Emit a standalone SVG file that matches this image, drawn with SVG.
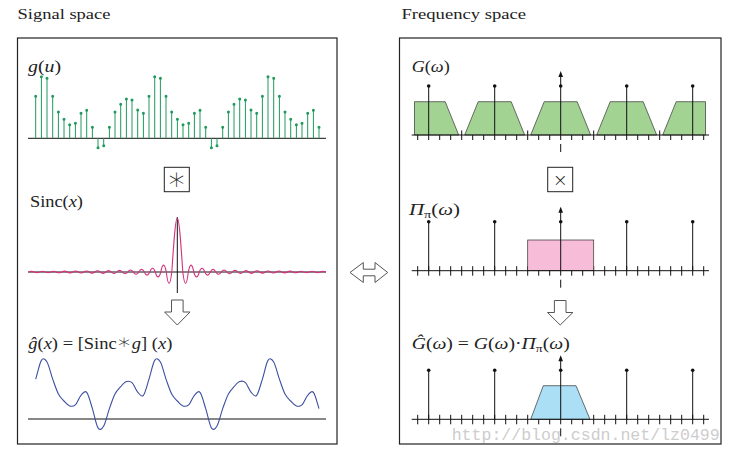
<svg xmlns="http://www.w3.org/2000/svg" xmlns:xlink="http://www.w3.org/1999/xlink" width="732" height="455" viewBox="0 0 732 455">
<style>
.t{font-family:"Liberation Serif","DejaVu Serif",serif;fill:#222}
.i{font-style:italic}
.ast{font-family:"DejaVu Sans",sans-serif;font-weight:200}
.panel{fill:none;stroke:#222;stroke-width:1.2}
.axis{stroke:#111;stroke-width:1;fill:none}
.opbox{fill:#fff;stroke:#222;stroke-width:1}
.hollow{fill:#fff;stroke:#555;stroke-width:1;stroke-linejoin:miter}
.tick{stroke:#111;stroke-width:1}
.trap{stroke:#333;stroke-width:0.7}
.dash{stroke:#111;stroke-width:1}
</style>
<defs>
<path id="ticks" class="tick" d="M417.7 -4.5v9.5M428.7 -4.5v9.5M439.7 -4.5v9.5M450.7 -4.5v9.5M461.7 -4.5v9.5M472.7 -4.5v9.5M483.7 -4.5v9.5M494.7 -4.5v9.5M505.7 -4.5v9.5M516.7 -4.5v9.5M527.7 -4.5v9.5M538.7 -4.5v9.5M549.7 -4.5v9.5M560.7 -4.5v9.5M571.7 -4.5v9.5M582.7 -4.5v9.5M593.7 -4.5v9.5M604.7 -4.5v9.5M615.7 -4.5v9.5M626.7 -4.5v9.5M637.7 -4.5v9.5M648.7 -4.5v9.5M659.7 -4.5v9.5M670.7 -4.5v9.5M681.7 -4.5v9.5M692.7 -4.5v9.5M703.7 -4.5v9.5"/>
<g id="spikes">
<path d="M428.7 0V-49M494.7 0V-49M560.7 0V-60M626.7 0V-49M692.7 0V-49" stroke="#111" stroke-width="1" fill="none"/>
<path d="M560.7 -64L558.4 -58L563 -58Z" fill="#111"/>
<g fill="#111"><circle cx="428.7" cy="-49" r="1.8"/><circle cx="494.7" cy="-49" r="1.8"/><circle cx="560.7" cy="-49" r="1.8"/><circle cx="626.7" cy="-49" r="1.8"/><circle cx="692.7" cy="-49" r="1.8"/></g>
<path d="M560.7 9V17" class="dash"/>
</g>
</defs>
<rect width="732" height="455" fill="#fff"/>

<text class="t" x="17.5" y="18.5" font-size="15" textLength="93" lengthAdjust="spacingAndGlyphs">Signal space</text>
<text class="t" x="401.5" y="18.5" font-size="15" textLength="124.5" lengthAdjust="spacingAndGlyphs">Frequency space</text>

<g id="panel-signal"><rect class="panel" x="17.5" y="38" width="319.5" height="406"/></g>
<g id="panel-frequency"><rect class="panel" x="399.5" y="38" width="321.5" height="406"/></g>

<g id="plot-g">
<text class="t" x="28" y="71.5" font-size="16" textLength="33" lengthAdjust="spacingAndGlyphs"><tspan class="i">g</tspan>(<tspan class="i">u</tspan>)</text>
<line class="axis" x1="28" y1="138.3" x2="326" y2="138.3"/>
<path stroke="#1f9a5c" stroke-width="1" fill="none" d="M35.7 138.3V96.3M41.4 138.3V76.7M47 138.3V78.3M52.7 138.3V96.3M58.4 138.3V112M64 138.3V119.3M69.7 138.3V124.7M75.4 138.3V123.3M81 138.3V113.3M86.7 138.3V110.3M92.4 138.3V127.3M98 138.3V147.7M103.7 138.3V145.7M109.4 138.3V127.3M115 138.3V112M120.7 138.3V104.3M126.4 138.3V99M132 138.3V100M137.7 138.3V110M143.4 138.3V113.3M149 138.3V96.3M154.7 138.3V76.7M160.4 138.3V78.3M166 138.3V96.3M171.7 138.3V112M177.4 138.3V119.3M183 138.3V124.7M188.7 138.3V123.3M194.4 138.3V113.3M200 138.3V110.3M205.7 138.3V127.3M211.4 138.3V147.7M217 138.3V145.7M222.7 138.3V127.3M228.4 138.3V112M234 138.3V104.3M239.7 138.3V99M245.4 138.3V100M251 138.3V110M256.7 138.3V113.3M262.4 138.3V96.3M268 138.3V76.7M273.7 138.3V78.3M279.4 138.3V96.3M285 138.3V112M290.7 138.3V119.3M296.4 138.3V124.7M302 138.3V123.3M307.7 138.3V113.3M313.4 138.3V110.3M319 138.3V127.3"/>
<path stroke="#1f9a5c" stroke-width="3" stroke-linecap="round" fill="none" d="M35.7 96.3h0.01M41.4 76.7h0.01M47 78.3h0.01M52.7 96.3h0.01M58.4 112h0.01M64 119.3h0.01M69.7 124.7h0.01M75.4 123.3h0.01M81 113.3h0.01M86.7 110.3h0.01M92.4 127.3h0.01M98 147.7h0.01M103.7 145.7h0.01M109.4 127.3h0.01M115 112h0.01M120.7 104.3h0.01M126.4 99h0.01M132 100h0.01M137.7 110h0.01M143.4 113.3h0.01M149 96.3h0.01M154.7 76.7h0.01M160.4 78.3h0.01M166 96.3h0.01M171.7 112h0.01M177.4 119.3h0.01M183 124.7h0.01M188.7 123.3h0.01M194.4 113.3h0.01M200 110.3h0.01M205.7 127.3h0.01M211.4 147.7h0.01M217 145.7h0.01M222.7 127.3h0.01M228.4 112h0.01M234 104.3h0.01M239.7 99h0.01M245.4 100h0.01M251 110h0.01M256.7 113.3h0.01M262.4 96.3h0.01M268 76.7h0.01M273.7 78.3h0.01M279.4 96.3h0.01M285 112h0.01M290.7 119.3h0.01M296.4 124.7h0.01M302 123.3h0.01M307.7 113.3h0.01M313.4 110.3h0.01M319 127.3h0.01"/>
</g>

<g id="op-conv">
<rect class="opbox" x="164.3" y="167.3" width="25" height="24.4"/>
<text class="ast" x="176.8" y="190" font-size="32" text-anchor="middle" fill="#222">∗</text>
</g>

<g id="plot-sinc">
<text class="t" x="30" y="207" font-size="16" textLength="53" lengthAdjust="spacingAndGlyphs">Sinc(<tspan class="i">x</tspan>)</text>
<line class="axis" x1="28" y1="272" x2="326" y2="272"/>
<line class="axis" x1="177.3" y1="217" x2="177.3" y2="293"/>
<path fill="none" stroke="#d6307e" stroke-width="1.1" d="M28.8 272Q31.55 270.7 34.3 272Q37.05 273.4 39.8 272Q42.55 270.6 45.3 272Q48.05 273.5 50.8 272Q53.55 270.5 56.3 272Q59.05 273.6 61.8 272Q64.55 270.3 67.3 272Q70.05 273.8 72.8 272Q75.55 270.1 78.3 272Q81.05 274 83.8 272Q86.55 269.9 89.3 272Q92.05 274.2 94.8 272Q97.55 269.6 100.3 272Q103.05 274.6 105.8 272Q108.55 269.3 111.3 272Q114.05 275 116.8 272Q119.55 268.7 122.3 272Q125.05 275.6 127.8 272Q130.55 268 133.3 272Q136.05 276.6 138.8 272Q141.55 266.7 144.3 272Q147.05 278.3 149.8 272Q152.55 264.4 155.3 272Q158.05 281.8 160.8 272Q163.55 258.2 166.3 272Q169.05 294.9 171.8 272C173.6 245 175.4 218 177.3 218S181 245 182.8 272Q185.55 294.9 188.3 272Q191.05 258.2 193.8 272Q196.55 281.8 199.3 272Q202.05 264.4 204.8 272Q207.55 278.3 210.3 272Q213.05 266.7 215.8 272Q218.55 276.6 221.3 272Q224.05 268 226.8 272Q229.55 275.6 232.3 272Q235.05 268.7 237.8 272Q240.55 275 243.3 272Q246.05 269.3 248.8 272Q251.55 274.6 254.3 272Q257.05 269.6 259.8 272Q262.55 274.2 265.3 272Q268.05 269.9 270.8 272Q273.55 274 276.3 272Q279.05 270.1 281.8 272Q284.55 273.8 287.3 272Q290.05 270.3 292.8 272Q295.55 273.6 298.3 272Q301.05 270.5 303.8 272Q306.55 273.5 309.3 272Q312.05 270.6 314.8 272Q317.55 273.4 320.3 272Q323.05 270.7 325.8 272"/>
</g>

<g id="plot-ghat">
<text class="t" x="28.3" y="349" font-size="16" textLength="144" lengthAdjust="spacingAndGlyphs"><tspan class="i">ĝ</tspan>(<tspan class="i">x</tspan>) = [Sinc<tspan class="ast" font-size="21">∗</tspan><tspan class="i">g</tspan>] (<tspan class="i">x</tspan>)</text>
<line class="axis" x1="28" y1="419" x2="326" y2="419"/>
<path fill="none" stroke="#3c4ea0" stroke-width="1.1" d="M35.7 379.1C37.6 373.3 39.5 363.3 41.4 360.4S45.1 358.9 47 362S50.8 373.8 52.7 379.1S56.5 390.4 58.4 394S62.1 399 64 401S67.8 405.4 69.7 406S73.5 406.5 75.4 404.8S79.1 397.3 81 395.3S84.8 390.2 86.7 392.4S90.5 402.6 92.4 408.6S96.1 425 98 427.9S101.8 429.2 103.7 426S107.5 413.9 109.4 408.6S113.1 397.6 115 394S118.8 388.8 120.7 386.7S124.5 382.3 126.4 381.6S130.1 380.9 132 382.6S135.8 390 137.7 392.1S141.5 397.4 143.4 395.3S147.1 384.9 149 379.1S152.8 363.3 154.7 360.4S158.5 358.9 160.4 362S164.1 373.8 166 379.1S169.8 390.4 171.7 394S175.5 399 177.4 401S181.1 405.4 183 406S186.8 406.5 188.7 404.8S192.5 397.3 194.4 395.3S198.1 390.2 200 392.4S203.8 402.6 205.7 408.6S209.5 425 211.4 427.9S215.1 429.2 217 426S220.8 413.9 222.7 408.6S226.5 397.6 228.4 394S232.1 388.8 234 386.7S237.8 382.3 239.7 381.6S243.5 380.9 245.4 382.6S249.1 390 251 392.1S254.8 397.4 256.7 395.3S260.5 384.9 262.4 379.1S266.1 363.3 268 360.4S271.8 358.9 273.7 362S277.5 373.8 279.4 379.1S283.1 390.4 285 394S288.8 399 290.7 401S294.5 405.4 296.4 406S300.1 406.5 302 404.8S305.8 397.3 307.7 395.3S311.5 390.2 313.4 392.4S317.1 402.6 319 408.6"/>
</g>

<g id="plot-G">
<text class="t" x="411.7" y="71.5" font-size="16" textLength="38" lengthAdjust="spacingAndGlyphs"><tspan class="i">G</tspan>(<tspan class="i">ω</tspan>)</text>
<use xlink:href="#ticks" transform="translate(0,135)"/>
<g fill="#a3d393" class="trap">
<path d="M414.5 135V101.7H445.2L458.7 135Z"/>
<path d="M464.7 135L478.2 101.7H511.2L524.7 135Z"/>
<path d="M530.7 135L544.2 101.7H577.2L590.7 135Z"/>
<path d="M596.7 135L610.2 101.7H643.2L656.7 135Z"/>
<path d="M662.7 135L676.2 101.7H705.5V135Z"/>
</g>
<line class="axis" x1="411.7" y1="135" x2="709" y2="135"/>
<use xlink:href="#spikes" transform="translate(0,135)"/>
</g>

<g id="op-mult">
<rect class="opbox" x="547.7" y="167.3" width="25" height="24.4"/>
<text class="ast" x="560.2" y="185.5" font-size="18" text-anchor="middle" fill="#222">×</text>
</g>

<g id="plot-Pi">
<text class="t" x="409" y="215" font-size="16" textLength="51" lengthAdjust="spacingAndGlyphs"><tspan class="i">Π</tspan><tspan font-size="11" dy="3">π</tspan><tspan dy="-3">(</tspan><tspan class="i">ω</tspan>)</text>
<use xlink:href="#ticks" transform="translate(0,270.7)"/>
<rect x="527.7" y="240" width="66" height="30.7" fill="#f6bcd8" stroke="#333" stroke-width="0.7"/>
<line class="axis" x1="411.7" y1="270.7" x2="709" y2="270.7"/>
<use xlink:href="#spikes" transform="translate(0,270.7)"/>
</g>

<g id="plot-Ghat">
<text class="t" x="411.7" y="348.5" font-size="16" textLength="158" lengthAdjust="spacingAndGlyphs"><tspan class="i">Ĝ</tspan>(<tspan class="i">ω</tspan>) = <tspan class="i">G</tspan>(<tspan class="i">ω</tspan>)·<tspan class="i">Π</tspan><tspan font-size="11" dy="3">π</tspan><tspan dy="-3">(</tspan><tspan class="i">ω</tspan>)</text>
<use xlink:href="#ticks" transform="translate(0,419.3)"/>
<path d="M530.7 419.3L543.3 385.7H576L590 419.3Z" fill="#aadff5" class="trap"/>
<line class="axis" x1="411.7" y1="419.3" x2="709" y2="419.3"/>
<use xlink:href="#spikes" transform="translate(0,419.3)"/>
</g>

<g id="connectors">
<path class="hollow" d="M171.5 300H183.1V312H190L177.3 325L164.6 312H171.5Z"/>
<path class="hollow" d="M554.4 300.5H566V312.5H572.9L560.2 325L547.5 312.5H554.4Z"/>
<path class="hollow" d="M350 272.5L363.3 262.5V269.2H375V262.5L387.7 272.5L375 282.5V275.8H363.3V282.5Z"/>
</g>

<text x="451.7" y="440" font-size="16.5" font-family="Liberation Mono, monospace" fill="#cdcdcd" textLength="268" lengthAdjust="spacingAndGlyphs">http://blog.csdn.net/lz0499</text>
</svg>
